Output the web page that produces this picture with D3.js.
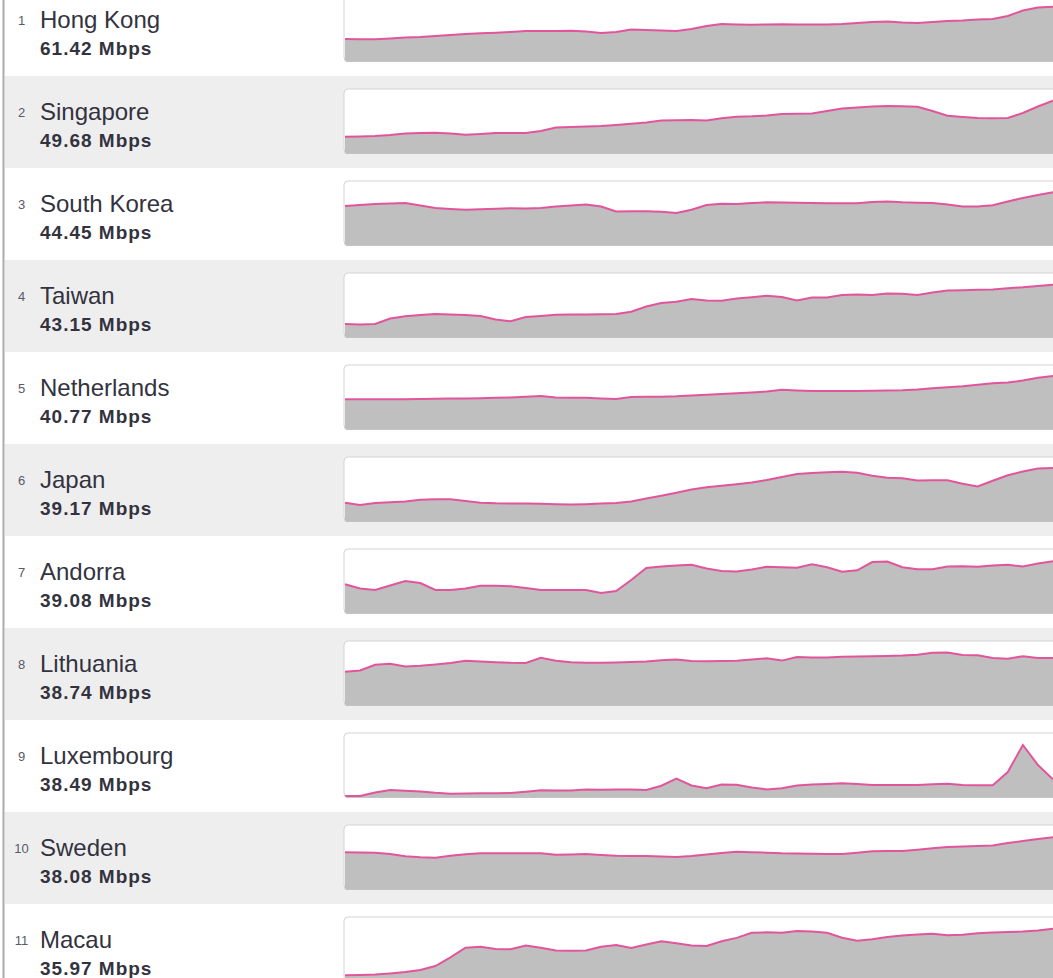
<!DOCTYPE html>
<html>
<head>
<meta charset="utf-8">
<script src="https://cdn.jsdelivr.net/npm/d3@7"></script>
<style>
  body { margin: 0; background: #fff; }
  svg { display: block; }
  text { font-family: Arial, 'Liberation Sans', sans-serif; }
</style>
</head>
<body>
<div id="chart-area"></div>
<script>
// ranking data
const ranks = [1, 2, 3, 4, 5, 6, 7, 8, 9, 10, 11]
const countries = ['Hong Kong', 'Singapore', 'South Korea', 'Taiwan', 'Netherlands', 'Japan',
    'Andorra', 'Lithuania', 'Luxembourg', 'Sweden', 'Macau']
const speeds = [61.42, 49.68, 44.45, 43.15, 40.77, 39.17, 39.08, 38.74, 38.49, 38.08, 35.97]

// sparkline levels (0 = bottom of the box, 64 = top)
const hongKong = [22, 21.7, 21.7, 22.5, 23.5, 24, 25, 26, 27, 27.7, 28.3, 29, 30, 30, 30, 30.3, 29.5, 28, 29, 31.5,
    31, 30.5, 30, 32, 35, 37, 36.5, 36.3, 36.5, 36.7, 36.5, 36.5, 36.5, 37, 38, 39, 39.5, 38.5, 38, 39,
    40, 40.5, 41.5, 42, 45, 50.5, 53.5, 54.3]
const singapore = [16.3, 16.6, 17, 18, 19.5, 20, 20.3, 19.5, 18.3, 19, 20, 20, 20, 22, 25.5, 26, 26.5, 27, 28, 29.3,
    30.5, 32.5, 32.8, 33, 32.5, 34.7, 36.3, 36.7, 37.5, 39, 39.3, 39.6, 42, 44.5, 45.5, 46.5, 47, 46.8, 46.3, 42,
    37.3, 36, 35, 34.7, 35, 40, 46.5, 52.3]
const southKorea = [39, 40, 41, 41.5, 42, 39.5, 37, 36, 35.3, 35.8, 36.3, 36.7, 36.5, 37, 38.5, 39.5, 40.5, 38.5, 33.5, 33.8,
    33.8, 33.3, 32, 35.2, 40, 41.3, 41, 42, 42.7, 42.5, 42.3, 42, 41.7, 41.7, 41.7, 43, 43.5, 42.7, 42.3, 42,
    40.5, 38.5, 38.5, 39.7, 43.5, 47, 50, 52.7]
const taiwan = [13, 12.5, 13, 18.5, 20.7, 22, 23, 22.5, 22, 21, 17.5, 15.7, 20, 21, 22.2, 22.4, 22.5, 22.7, 23, 25.3,
    30.5, 34, 35.3, 38, 36.5, 36.3, 38.5, 39.7, 41.2, 40, 36.5, 39.5, 39.5, 42, 42.5, 42, 43.5, 43.3, 42, 44.5,
    46.5, 46.8, 47.2, 47.5, 48.8, 49.7, 51, 52.3]
const netherlands = [29.7, 29.7, 29.7, 29.7, 29.8, 30, 30.2, 30.4, 30.6, 30.8, 31.2, 31.6, 32.2, 33, 31.5, 31.3, 31.3, 30.5, 30, 32,
    32.3, 32.3, 32.7, 33.5, 34.3, 35, 35.8, 36.5, 37.5, 39.2, 38.5, 38, 38, 38, 38, 38.3, 38.5, 38.7, 39.5, 40.7,
    41.8, 42.8, 44.3, 45.8, 46.5, 48.5, 51.3, 53]
const japan = [18.3, 16, 18, 18.7, 19.6, 21.2, 21.7, 21.7, 20, 18.2, 17.7, 17.6, 17.4, 17.3, 16.8, 16.4, 16.8, 17.4, 18, 19.6,
    22.4, 25.2, 28.3, 31.5, 33.8, 35.2, 36.7, 38.5, 41, 44.1, 47.1, 48, 48.8, 49.3, 48.2, 45.3, 43.3, 42.7, 40.5, 40.8,
    40.7, 37.3, 34.6, 40.2, 45.7, 49.5, 52.5, 53]
const andorra = [28.7, 24.5, 23, 27.5, 32, 30, 23, 23, 24.5, 27.3, 27.2, 26.7, 25, 23, 23, 23, 23, 20, 22, 33,
    45, 46.5, 47.5, 48.2, 44.5, 42, 41.5, 43.5, 46.3, 45.8, 45.3, 48.7, 45.8, 41.2, 42.7, 51, 51.5, 45.8, 43.7, 43.7,
    46.5, 46.8, 46.2, 47.5, 48.2, 46.5, 49.5, 51.7]
const lithuania = [33.3, 34.5, 40.3, 41.3, 38.5, 39.3, 40.5, 42, 44.2, 43.6, 42.8, 42.2, 42, 47.3, 44.2, 42.8, 42.2, 42.2, 42.6, 43,
    43.5, 44.8, 45.5, 44, 43.8, 44, 44.2, 45.5, 46.7, 44.4, 48, 47.4, 47.5, 48.2, 48.5, 48.8, 49.1, 49.5, 50.3, 52.2,
    52.6, 50, 49.8, 47, 46.2, 48.8, 47, 47]
const luxembourg = [1, 1, 4.5, 7, 6.3, 5.5, 4.2, 3.3, 3.6, 3.7, 3.7, 4, 5.3, 6.7, 6.5, 6.4, 7.6, 7.2, 7.4, 7.4,
    7, 11.3, 18.5, 11.5, 8.7, 12.5, 12.3, 9.4, 7.6, 8.8, 11.4, 12.5, 13, 13.7, 13, 12, 12, 12, 12, 12.8,
    13.2, 12, 11.7, 11.7, 25, 52, 32, 17.7]
const sweden = [36.7, 36.5, 36.3, 35.1, 32.8, 31.8, 31.3, 33.2, 34.7, 35.7, 35.7, 35.7, 35.7, 35.7, 34.2, 34.4, 34.9, 34, 33.3, 33.1,
    32.9, 32.6, 32, 33, 34.5, 36, 37.2, 36.8, 36.3, 35.7, 35.5, 35.3, 35.1, 35, 36.3, 37.8, 38, 38, 39.2, 40.7,
    42, 42.5, 42.9, 43.5, 46, 48, 50, 51.7]
const macau = [5.7, 6, 6.5, 7.6, 9, 11, 15, 23.7, 33.3, 34.3, 32, 31.7, 35.5, 33.3, 30.5, 30.3, 30.5, 34.3, 36, 33,
    36.5, 39.7, 37.7, 35.5, 35, 39.7, 43.1, 48.2, 48.7, 48.3, 50, 49.4, 48.3, 43.3, 40.3, 41.8, 44, 45.5, 46.5, 47.3,
    45.8, 46.3, 47.8, 48.6, 49, 49.5, 50.6, 52.3]

const series = [hongKong, singapore, southKorea, taiwan, netherlands, japan,
    andorra, lithuania, luxembourg, sweden, macau]

const width = 1053
const height = 978
const rowHeight = 92
const firstRowTop = -16
const box = { left: 344, width: 730, top: 13, height: 64 }

const svg = d3.select('#chart-area').append('svg')
    .attr('width', width)
    .attr('height', height)

// x runs inside the box, the box is wider than the page on the right
const xScale = d3.scaleLinear()
    .domain([0, hongKong.length - 1])
    .range([1, width - box.left])

const yScale = d3.scaleLinear()
    .domain([0, 64])
    .range([box.height, 0])

const area = d3.area()
    .x((d, i) => xScale(i))
    .y0(yScale(0))
    .y1(d => yScale(d))

const line = d3.line()
    .x((d, i) => xScale(i))
    .y(d => yScale(d))

const rows = svg.selectAll('g.row')
    .data(countries)
    .enter()
    .append('g')
    .attr('class', 'row')
    .attr('transform', (d, i) => `translate(0, ${firstRowTop + i * rowHeight})`)

// striped backgrounds
rows.append('rect')
    .attr('x', 5)
    .attr('width', width - 5)
    .attr('height', rowHeight)
    .attr('fill', (d, i) => i % 2 ? '#eeeeee' : '#ffffff')

rows.append('text')
    .attr('x', 21.5)
    .attr('y', 40.5)
    .attr('text-anchor', 'middle')
    .attr('font-size', '13px')
    .attr('fill', '#5a5a66')
    .text((d, i) => ranks[i])

rows.append('text')
    .attr('x', 40)
    .attr('y', 44)
    .attr('font-size', '24px')
    .attr('fill', '#333340')
    .text(d => d)

rows.append('text')
    .attr('x', 40)
    .attr('y', 71)
    .attr('font-size', '19px')
    .attr('font-weight', 'bold')
    .attr('letter-spacing', '1px')
    .attr('fill', '#333340')
    .text((d, i) => `${speeds[i].toFixed(2)} Mbps`)

// sparkline boxes
const spark = rows.append('g')
    .attr('transform', `translate(${box.left}, ${box.top})`)

spark.append('clipPath')
    .attr('id', (d, i) => `clip-${i}`)
    .append('rect')
    .attr('width', box.width)
    .attr('height', box.height)
    .attr('rx', 4)

// soft shadow under the box
spark.append('rect')
    .attr('y', 1)
    .attr('width', box.width)
    .attr('height', box.height)
    .attr('rx', 4)
    .attr('fill', '#b3b3b3')

spark.append('rect')
    .attr('width', box.width)
    .attr('height', box.height)
    .attr('rx', 4)
    .attr('fill', '#ffffff')
    .attr('stroke', '#d4d4d4')

const plot = spark.append('g')
    .attr('clip-path', (d, i) => `url(#clip-${i})`)

plot.append('path')
    .attr('d', (d, i) => area(series[i]))
    .attr('fill', '#bfbfbf')

plot.append('path')
    .attr('d', (d, i) => line(series[i]))
    .attr('fill', 'none')
    .attr('stroke', '#e2559d')
    .attr('stroke-width', 2)

// left rule
svg.append('line')
    .attr('x1', 3.5)
    .attr('x2', 3.5)
    .attr('y1', 0)
    .attr('y2', height)
    .attr('stroke', '#ababab')
    .attr('stroke-width', 2)
</script>
</body>
</html>
